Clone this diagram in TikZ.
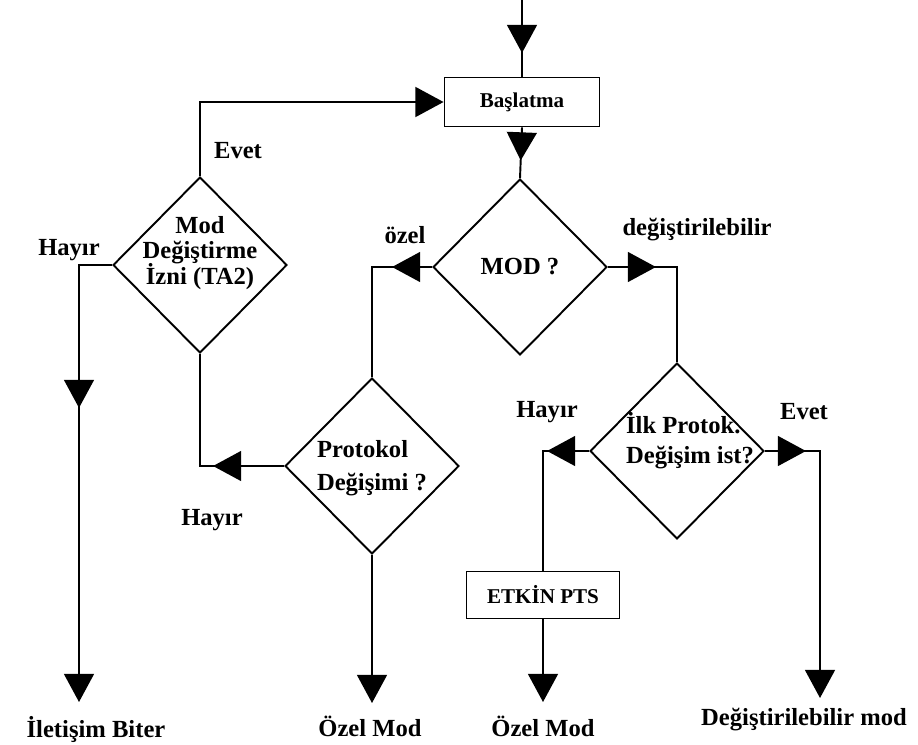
\documentclass[tikz,border=0pt]{standalone}
\usepackage{fontspec}
\setmainfont{Liberation Serif}
\usetikzlibrary{shapes.geometric,arrows.meta,decorations.markings}

\tikzset{
  karar/.style={draw,diamond,line width=1.1pt,inner sep=0pt,minimum width=3.48cm,minimum height=3.52cm,font=\fontsize{14}{17}\selectfont\bfseries},
  kutu/.style={draw,rectangle,line width=1.1pt,inner sep=0pt,font=\fontsize{12}{14}\selectfont\bfseries},
  yazi/.style={inner sep=0pt,font=\fontsize{14}{17}\selectfont\bfseries},
  hat/.style={line width=1.1pt},
  ucu/.style={-{Triangle[length=16pt,width=17pt]}},
  okat/.style={postaction={decorate},decoration={markings,mark=at position #1 with {\arrow{Triangle[length=16pt,width=17pt]}}}}
}

\begin{document}
\begin{tikzpicture}[x=0.02cm,y=-0.02cm]

\useasboundingbox
(0,0)
rectangle
(918,744);

\coordinate
(giris)
at (522,0);

\node[kutu,minimum width=3.1cm,minimum height=0.98cm]
(bas)
at (522,102)
{Başlatma};

\node[karar]
(mod)
at (520,267)
{MOD ?};

\node[karar]
(izin)
at (200,265)
{\makebox[0pt]{\smash{\raisebox{0.12cm}{\begin{tabular}{@{}c@{}}Mod\\[-2.5pt]Değiştirme\\[-2.5pt]İzni (TA2)\end{tabular}}}}};

\node[karar]
(prot)
at (372,466)
{\makebox[0pt]{\smash{\raisebox{-0.16cm}{\begin{tabular}{@{}l@{}}Protokol\\[1.7pt]Değişimi ?\end{tabular}}}}};

\node[karar]
(ilk)
at (677,451)
{\makebox[0pt]{\hspace{0.52cm}\smash{\raisebox{0.04cm}{\begin{tabular}{@{}l@{}}İlk Protok.\\Değişim ist?\end{tabular}}}}};

\node[kutu,minimum width=3.06cm,minimum height=0.94cm]
(etkin)
at (543,595)
{ETKİN PTS};

\coordinate
(son1)
at (79,702);

\coordinate
(son2)
at (372,703);

\coordinate
(son3)
at (543,702);

\coordinate
(son4)
at (820,698);

\node[yazi]
(iletisim)
at (96,729)
{İletişim Biter};

\node[yazi]
(ozel1)
at (370,726)
{Özel Mod};

\node[yazi]
(ozel2)
at (543,726)
{Özel Mod};

\node[yazi]
(degmod)
at (804,720)
{Değiştirilebilir mod};

\node[yazi]
(evet1)
at (238,151)
{Evet};

\node[yazi]
(hayir1)
at (69,250)
{Hayır};

\node[yazi]
(ozel)
at (405,235)
{özel};

\node[yazi]
(degis)
at (697,230)
{değiştirilebilir};

\node[yazi]
(hayir2)
at (547,412)
{Hayır};

\node[yazi]
(evet2)
at (804,412)
{Evet};

\node[yazi]
(hayir3)
at (212,520)
{Hayır};

\draw[hat,okat=1.06cm]
(giris)
--
(bas.north);

\draw[hat,okat=0.66cm]
(bas.south)
--
(mod.north);

\draw[hat,okat=0.8cm]
(mod.west)
-|
(prot.north);

\draw[hat,okat=0.96cm]
(mod.east)
-|
(ilk.north);

\draw[hat,okat=0.84cm]
(ilk.west)
-|
(etkin.north);

\draw[hat,ucu,okat=0.82cm]
(ilk.east)
-|
(son4);

\draw[hat,okat=1.42cm]
(prot.west)
-|
(izin.south);

\draw[hat,ucu]
(izin.north)
|-
(bas.west);

\draw[hat,ucu,okat=3.52cm]
(izin.west)
-|
(son1);

\draw[hat,ucu]
(prot.south)
--
(son2);

\draw[hat,ucu]
(etkin.south)
--
(son3);

\end{tikzpicture}
\end{document}
